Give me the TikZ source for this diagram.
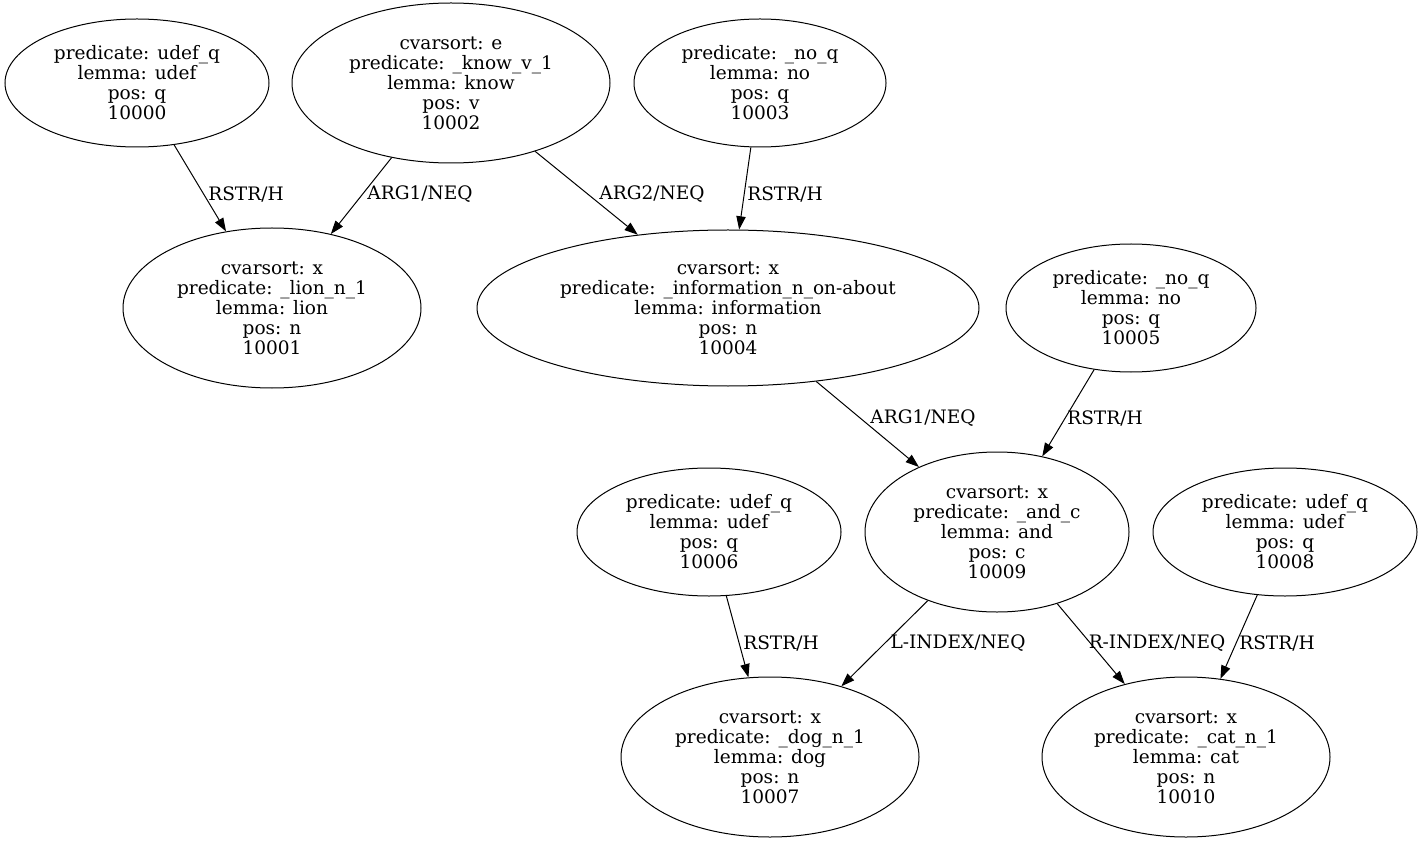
\documentclass[tikz,border=0pt]{standalone}
\usepackage{fontspec}
\setmainfont{DejaVu Serif}
\usetikzlibrary{shapes.geometric,arrows.meta}
\tikzset{
  ell/.style={draw, ellipse, inner sep=0pt, align=center, line width=0.75pt,
    font=\fontsize{13.9pt}{15pt}\selectfont},
  edge/.style={draw, line width=0.75pt, -{Triangle[length=10pt,width=7pt]}, shorten >=0pt},
  lbl/.style={font=\fontsize{13.9pt}{15pt}\selectfont, inner sep=0pt}
}
\begin{document}
\begin{tikzpicture}[x=0.75pt,y=-0.75pt]
\useasboundingbox (0,0) rectangle (1423,841);
\newcommand{\ellnode}[6]{\node[ell, minimum width=#4*1.5pt, minimum height=#5*1.5pt] (#1) at (#2,#3) {#6};}
\ellnode{n0}{137}{83}{132}{64}{predicate: udef\_q\\lemma: udef\\pos: q\\10000}
\ellnode{n2}{451}{83}{159}{80}{cvarsort: e\\predicate: \_know\_v\_1\\lemma: know\\pos: v\\10002}
\ellnode{n3}{760}{83}{126}{64}{predicate: \_no\_q\\lemma: no\\pos: q\\10003}
\ellnode{n1}{272}{308}{149}{80}{cvarsort: x\\predicate: \_lion\_n\_1\\lemma: lion\\pos: n\\10001}
\ellnode{n4}{728}{308}{251}{78}{cvarsort: x\\predicate: \_information\_n\_on-about\\lemma: information\\pos: n\\10004}
\ellnode{n5}{1131}{308}{125}{64}{predicate: \_no\_q\\lemma: no\\pos: q\\10005}
\ellnode{n6}{709}{532}{132}{64}{predicate: udef\_q\\lemma: udef\\pos: q\\10006}
\ellnode{n9}{997}{532}{132}{80}{cvarsort: x\\predicate: \_and\_c\\lemma: and\\pos: c\\10009}
\ellnode{n8}{1285}{532}{132}{64}{predicate: udef\_q\\lemma: udef\\pos: q\\10008}
\ellnode{n7}{770}{757}{149}{80}{cvarsort: x\\predicate: \_dog\_n\_1\\lemma: dog\\pos: n\\10007}
\ellnode{n10}{1186}{757}{144}{80}{cvarsort: x\\predicate: \_cat\_n\_1\\lemma: cat\\pos: n\\10010}

\draw[edge] (n0) -- (n1);
\node[lbl] (l01) at (246,194) {RSTR/H};
\draw[edge] (n2) -- (n1);
\node[lbl] (l21) at (420,194) {ARG1/NEQ};
\draw[edge] (n2) -- (n4);
\node[lbl] (l24) at (652,194) {ARG2/NEQ};
\draw[edge] (n3) -- (n4);
\node[lbl] (l34) at (785,194) {RSTR/H};
\draw[edge] (n4) -- (n9);
\node[lbl] (l49) at (923,418) {ARG1/NEQ};
\draw[edge] (n5) -- (n9);
\node[lbl] (l59) at (1105,418) {RSTR/H};
\draw[edge] (n6) -- (n7);
\node[lbl] (l67) at (781,643) {RSTR/H};
\draw[edge] (n9) -- (n7);
\node[lbl] (l97) at (958,643) {L-INDEX/NEQ};
\draw[edge] (n9) -- (n10);
\node[lbl] (l910) at (1157,643) {R-INDEX/NEQ};
\draw[edge] (n8) -- (n10);
\node[lbl] (l810) at (1277,643) {RSTR/H};
\end{tikzpicture}
\end{document}
